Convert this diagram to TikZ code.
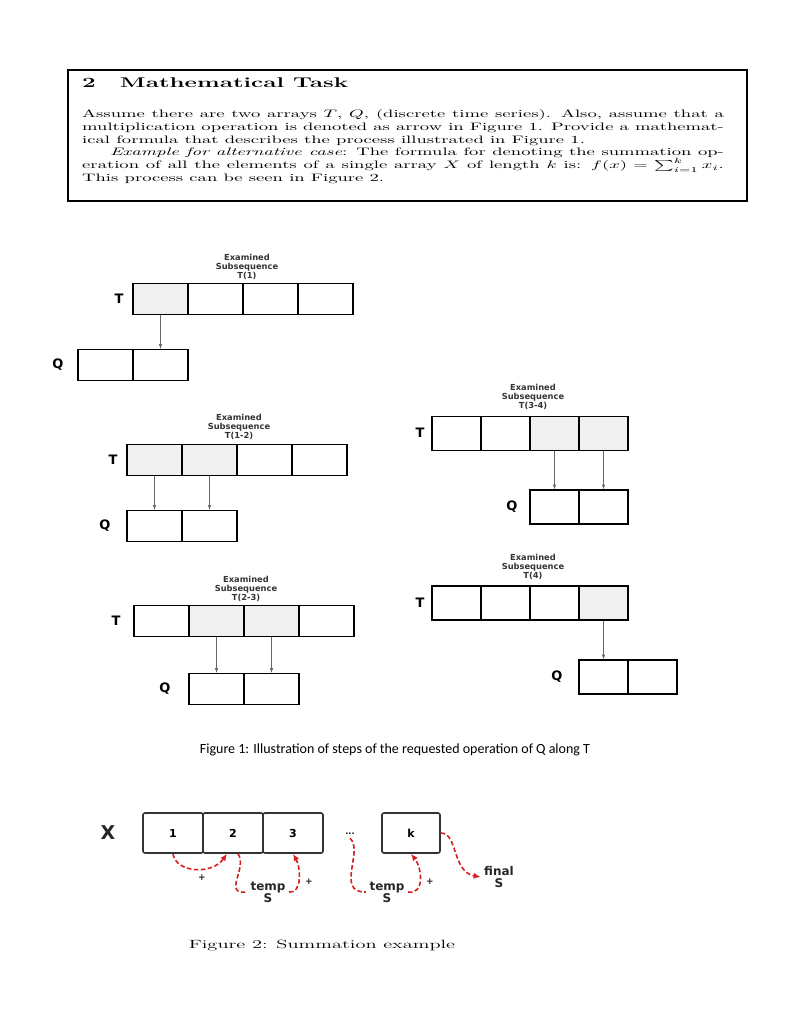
\documentclass[tikz,border=0pt]{standalone}
\usepackage{fontspec}
\usepackage{graphicx}
\usepackage{amsmath}
\usetikzlibrary{arrows,arrows.meta}
\newfontfamily\figfont{DejaVu Sans}
\newfontfamily\capfont{Carlito}
\definecolor{cellgray}{rgb}{0.94,0.94,0.94}
\definecolor{sumred}{rgb}{0.84,0.12,0.12}
\newcommand{\wideTeX}[1]{\scalebox{1.86}[1.08]{#1}}

\begin{document}
\begin{tikzpicture}[x=1pt,y=-1pt,>=latex,
  cell/.style={draw,line width=1.5pt,minimum width=55pt,minimum height=31pt,inner sep=0pt},
  rcell/.style={cell,minimum width=49pt,minimum height=34pt},
  hit/.style={fill=cellgray},
  arr/.style={->,draw=black!60,line width=0.6pt},
  tq/.style={font=\figfont\bfseries\fontsize{13}{13}\selectfont},
  exam/.style={font=\figfont\bfseries\fontsize{8.3}{9}\selectfont,align=center,text=black!80},
  xcell/.style={draw=black!80,line width=1.6pt,rounded corners=2pt,minimum width=60pt,minimum height=40pt,inner sep=0pt,font=\figfont\bfseries\fontsize{11}{11}\selectfont},
  sum/.style={draw=sumred,line width=1.6pt,dash pattern=on 4.5pt off 2.5pt},
  sumtip/.style={-{Latex[length=7pt,width=6pt]}},
  sumtxt/.style={font=\figfont\bfseries\fontsize{12}{12}\selectfont,align=center,text=black!85},
  plus/.style={font=\figfont\bfseries\fontsize{9}{9}\selectfont,text=black!85}]
 \useasboundingbox (0,0) rectangle (791,1024);

 % task text
 \node[draw,line width=1.2pt,minimum width=679pt,minimum height=131pt,inner sep=0pt] (frame) at (407.5,135.5) {};
 \node[anchor=north west,inner sep=0pt] (task) at (82,78) {\wideTeX{\parbox{345pt}{%
   {\fontsize{13}{16}\selectfont\bfseries 2\hspace{1em}Mathematical Task\par}
   \vspace{15pt}
   \fontsize{10}{12}\selectfont\setlength{\parindent}{15pt}%
   \noindent Assume there are two arrays $T$, $Q$, (discrete time series). Also, assume that a
   multiplication operation is denoted as arrow in Figure 1. Provide a mathematical
   formula that describes the process illustrated in Figure 1.\par
   \textit{Example for alternative case}: The formula for denoting the summation
   operation of all the elements of a single array $X$ of length $k$ is: $f(x)=\sum_{i=1}^{k}x_i$.
   This process can be seen in Figure 2.}}};

 % step T(1)
 \node[exam] (e1) at (247,267) {Examined\\Subsequence\\T(1)};
 \node[tq] (T1) at (119,299) {T};
 \node[cell,hit] (p1t1) at (160.5,299) {};
 \node[cell] (p1t2) at (215.5,299) {};
 \node[cell] (p1t3) at (270.5,299) {};
 \node[cell] (p1t4) at (325.5,299) {};
 \node[tq] (Q1) at (58,365) {Q};
 \node[cell] (p1q1) at (105.5,365) {};
 \node[cell] (p1q2) at (160.5,365) {};
 \draw[arr] (p1t1) -- (p1q2);

 % step T(1-2)
 \node[exam] (e2) at (239,427) {Examined\\Subsequence\\T(1-2)};
 \node[tq] (T2) at (113,460) {T};
 \node[cell,hit] (p2t1) at (154.5,460) {};
 \node[cell,hit] (p2t2) at (209.5,460) {};
 \node[cell] (p2t3) at (264.5,460) {};
 \node[cell] (p2t4) at (319.5,460) {};
 \node[tq] (Q2) at (105,526) {Q};
 \node[cell] (p2q1) at (154.5,526) {};
 \node[cell] (p2q2) at (209.5,526) {};
 \draw[arr] (p2t1) -- (p2q1);
 \draw[arr] (p2t2) -- (p2q2);

 % step T(2-3)
 \node[exam] (e3) at (246,589) {Examined\\Subsequence\\T(2-3)};
 \node[tq] (T3) at (116,621) {T};
 \node[cell] (p3t1) at (161.5,621) {};
 \node[cell,hit] (p3t2) at (216.5,621) {};
 \node[cell,hit] (p3t3) at (271.5,621) {};
 \node[cell] (p3t4) at (326.5,621) {};
 \node[tq] (Q3) at (165,689) {Q};
 \node[cell] (p3q1) at (216.5,689) {};
 \node[cell] (p3q2) at (271.5,689) {};
 \draw[arr] (p3t2) -- (p3q1);
 \draw[arr] (p3t3) -- (p3q2);

 % step T(3-4)
 \node[exam] (e4) at (533,397) {Examined\\Subsequence\\T(3-4)};
 \node[tq] (T4) at (420,433) {T};
 \node[rcell] (p4t1) at (456.5,433.5) {};
 \node[rcell] (p4t2) at (505.5,433.5) {};
 \node[rcell,hit] (p4t3) at (554.5,433.5) {};
 \node[rcell,hit] (p4t4) at (603.5,433.5) {};
 \node[tq] (Q4) at (512,507) {Q};
 \node[rcell] (p4q1) at (554.5,507) {};
 \node[rcell] (p4q2) at (603.5,507) {};
 \draw[arr] (p4t3) -- (p4q1);
 \draw[arr] (p4t4) -- (p4q2);

 % step T(4)
 \node[exam] (e5) at (533,567) {Examined\\Subsequence\\T(4)};
 \node[tq] (T5) at (420,603) {T};
 \node[rcell] (p5t1) at (456.5,603) {};
 \node[rcell] (p5t2) at (505.5,603) {};
 \node[rcell] (p5t3) at (554.5,603) {};
 \node[rcell,hit] (p5t4) at (603.5,603) {};
 \node[tq] (Q5) at (557,677) {Q};
 \node[rcell] (p5q1) at (603.5,677) {};
 \node[rcell] (p5q2) at (652.5,677) {};
 \draw[arr] (p5t4) -- (p5q1);

 \node[font=\capfont\fontsize{14}{14}\selectfont] (cap1) at (395,750) {Figure 1: Illustration of steps of the requested operation of Q along T};

 % summation
 \node[font=\figfont\bfseries\fontsize{19}{19}\selectfont,text=black!85] (X) at (108,833) {X};
 \node[xcell] (x1) at (173,833) {1};
 \node[xcell] (x2) at (233,833) {2};
 \node[xcell] (x3) at (293,833) {3};
 \node[font=\figfont\bfseries\fontsize{8}{8}\selectfont] (dots) at (350,834) {...};
 \node[xcell,minimum width=58pt] (xk) at (411,833) {k};
 \node[sumtxt] (t1) at (268,892) {temp\\S};
 \node[sumtxt] (t2) at (387,892) {temp\\S};
 \node[sumtxt] (fin) at (499,877) {final\\S};
 \node[plus] (pl1) at (202,878) {+};
 \node[plus] (pl2) at (309,882) {+};
 \node[plus] (pl3) at (430,882) {+};
 \draw[sum,sumtip] (x1.south) .. controls (176,873) and (212,875) .. ([xshift=-6pt]x2.south);
 \draw[sum] ([xshift=5pt]x2.south) .. controls (248,868) and (222,895) .. (t1.west);
 \draw[sum,sumtip] (t1.east) .. controls (302,894) and (301,868) .. (x3.south);
 \draw[sum] (dots.south) .. controls (364,850) and (335,893) .. (t2.west);
 \draw[sum,sumtip] (t2.east) .. controls (425,895) and (422,868) .. (xk.south);
 \draw[sum,sumtip] (xk.east) .. controls (458,833) and (452,872) .. (fin.west);

 \node (cap2) at (322,946) {\wideTeX{\fontsize{11}{13}\selectfont Figure 2: Summation example}};
\end{tikzpicture}
\end{document}
